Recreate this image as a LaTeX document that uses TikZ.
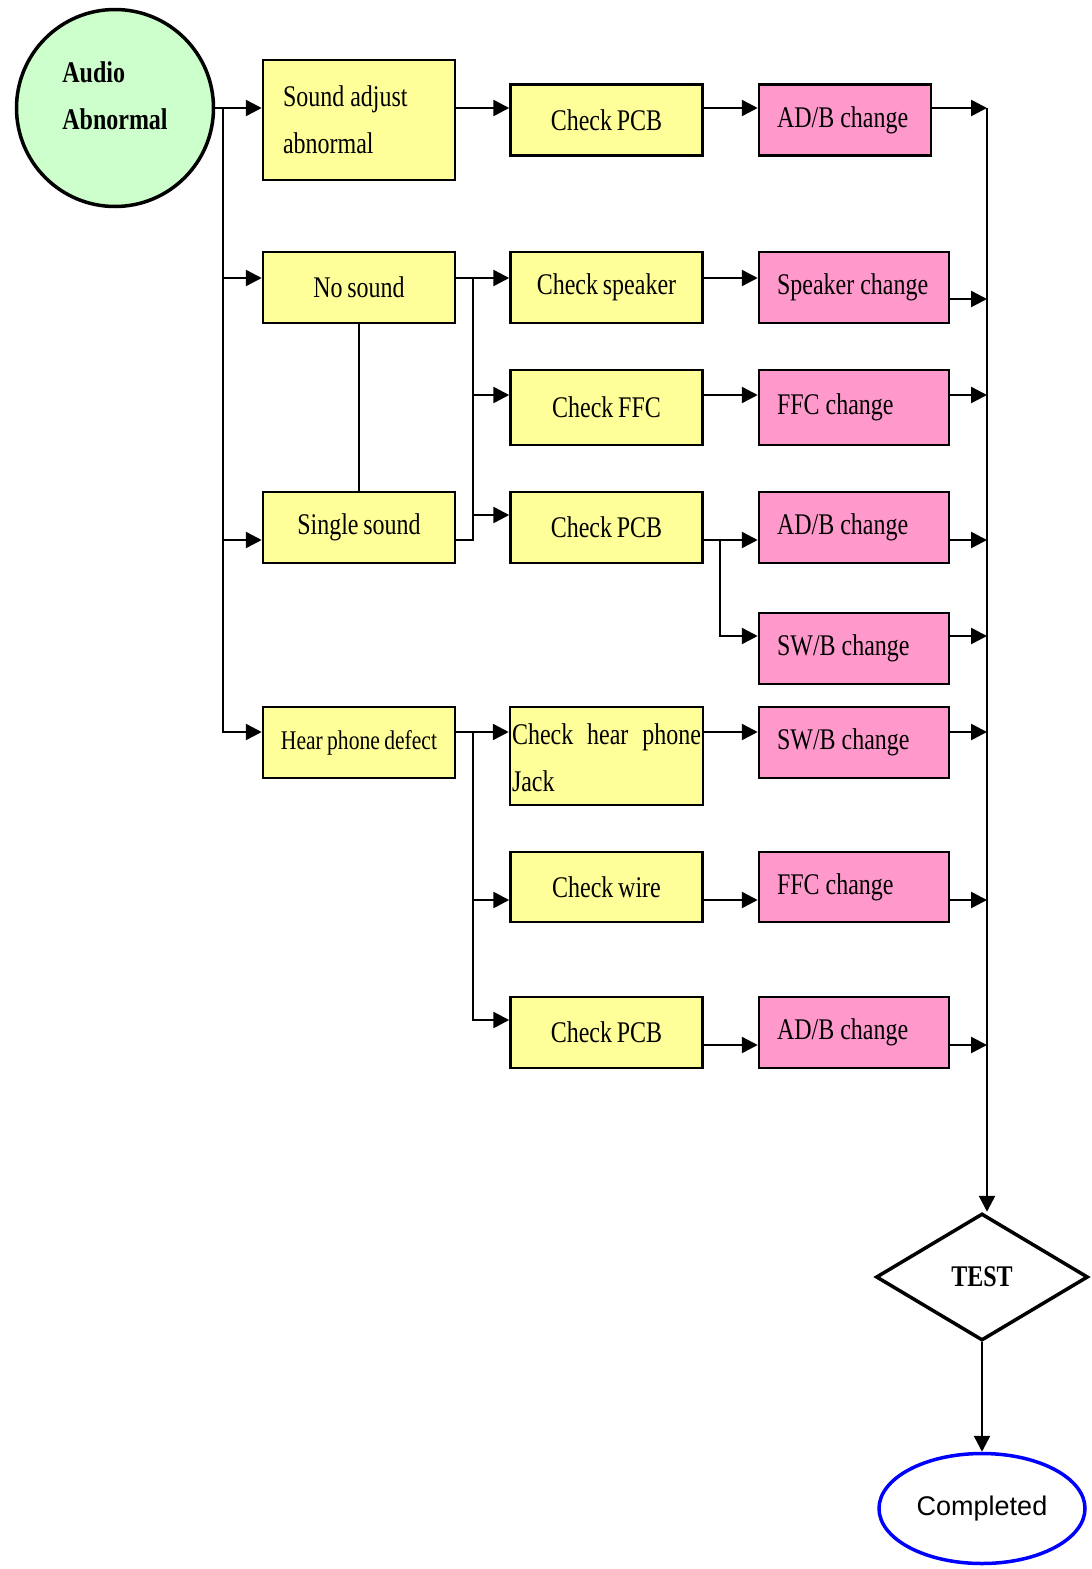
\documentclass[tikz,border=0pt]{standalone}
\usepackage{fontspec}
\setmainfont[FakeStretch=0.8, WordSpace=0.8]{Liberation Serif}
\newfontfamily\donefont{Liberation Sans}
\usepackage{tikz}
\usetikzlibrary{positioning,arrows.meta,calc,shapes.geometric}
\definecolor{boxyellow}{HTML}{FFFF99}
\definecolor{boxpink}{HTML}{FF99CC}
\definecolor{startgreen}{HTML}{CCFFCC}

\begin{document}
\begin{tikzpicture}[x=1pt, y=-1pt, line width=2.5pt, >={Triangle[length=16pt,width=16pt]},
    start_node/.style={draw, circle, fill=startgreen, line width=3.5pt, minimum size=197pt, inner sep=0pt, align=left, text depth=25pt, font=\bfseries\fontsize{30}{47}\selectfont},
    step_box/.style={draw, rectangle, fill=boxyellow, line width=2.5pt, minimum width=192pt, minimum height=71pt, inner sep=0pt, align=center, font=\fontsize{30}{47}\selectfont},
    change_box/.style={draw, rectangle, fill=boxpink, line width=2.5pt, minimum width=190pt, minimum height=71pt, inner xsep=9pt, inner ysep=0pt, text width=172pt, align=left, execute at begin node={\spaceskip=0.2em\relax\hspace*{9pt}}, font=\fontsize{30}{47}\selectfont},
    test_node/.style={draw, diamond, line width=3.5pt, minimum width=212pt, minimum height=127pt, inner sep=0pt, font=\bfseries\fontsize{30}{36}\selectfont},
    done_node/.style={draw=blue, ellipse, line width=3.5pt, minimum width=206pt, minimum height=110pt, inner sep=0pt, font=\donefont\fontsize{27}{32}\selectfont}]
    \useasboundingbox (0,0) rectangle (1092,1569);

    % problems
    \node[start_node] (audio) at (115,108) {Audio\\Abnormal};
    \node[step_box, minimum height=120pt, align=left, text width=152pt, inner xsep=20pt, execute at begin node={\spaceskip=0.2em\relax}] (adjust) at (359,120) {Sound adjust\\abnormal};
    \node[step_box] (nosound) at (359,287.5) {No sound};
    \node[step_box] (single) at (359,527.5) {Single sound};
    \node[step_box, font=\fontsize{27}{40}\selectfont] (hear) at (359,742.5) {Hear phone defect};

    % checks
    \node[step_box] (c1) at (606.5,120) {Check PCB};
    \node[step_box] (c2) at (606.5,287.5) {Check speaker};
    \node[step_box, minimum height=75pt] (c3) at (606.5,407.5) {Check FFC};
    \node[step_box] (c4) at (606.5,527.5) {Check PCB};
    \node[step_box, minimum height=98pt, text width=189pt, inner xsep=2pt, align=justify, text depth=44pt] (c5) at (606.5,756) {Check hear phone Jack};
    \node[step_box, minimum height=70pt] (c6) at (606.5,887) {Check wire};
    \node[step_box] (c7) at (606.5,1032.5) {Check PCB};

    % repairs
    \node[change_box, minimum width=172pt, text width=154pt] (r1) at (845,120) {AD/B change};
    \node[change_box] (r2) at (854,287.5) {Speaker change};
    \node[change_box, minimum height=75pt] (r3) at (854,407.5) {FFC change};
    \node[change_box] (r4) at (854,527.5) {AD/B change};
    \node[change_box] (r5) at (854,648.5) {SW/B change};
    \node[change_box] (r6) at (854,742.5) {SW/B change};
    \node[change_box, minimum height=70pt] (r7) at (854,887) {FFC change};
    \node[change_box] (r8) at (854,1032.5) {AD/B change};

    \node[test_node] (test) at (982,1277) {TEST};
    \node[done_node] (done) at (982,1508.5) {Completed};

    % bus points
    \coordinate (lbus) at (223,108);
    \coordinate (mbus) at (473,278);
    \coordinate (sbus) at (720,540);
    \coordinate (hbus) at (473,732);
    \coordinate (rbus) at (987,108);

    % left side
    \draw[->] (audio.east) -- (adjust.west |- audio.east);
    \draw[->] (lbus) |- ([yshift=9.5]nosound.west);
    \draw[->] (lbus) |- ([yshift=-12.5]single.west);
    \draw[->] (lbus) |- ([yshift=10.5]hear.west);
    \draw[line width=1.5pt] (nosound.south) -- (single.north);

    % to the checks
    \draw[->] ([yshift=12]adjust.east) -- ([yshift=12]c1.west);
    \draw[->] ([yshift=9.5]nosound.east) -- ([yshift=9.5]c2.west);
    \draw ([yshift=-12.5]single.east) -| (mbus);
    \draw[->] (mbus) |- ([yshift=12.5]c3.west);
    \draw[->] (mbus) |- ([yshift=12.5]c4.west);
    \draw[->] ([yshift=10.5]hear.east) -- ([yshift=10.5]hear.east -| c5.west);
    \draw[->] (hbus) |- ([yshift=-13]c6.west);
    \draw[->] (hbus) |- ([yshift=12.5]c7.west);

    % to the repairs
    \draw[->] ([yshift=12]c1.east) -- ([yshift=12]r1.west);
    \draw[->] ([yshift=9.5]c2.east) -- ([yshift=9.5]r2.west);
    \draw[->] ([yshift=12.5]c3.east) -- ([yshift=12.5]r3.west);
    \draw[->] ([yshift=-12.5]c4.east) -- ([yshift=-12.5]r4.west);
    \draw[->] (sbus) |- ([yshift=12.5]r5.west);
    \draw[->] ([yshift=24]c5.east) -- ([yshift=24]c5.east -| r6.west);
    \draw[->] ([yshift=-13]c6.east) -- ([yshift=-13]r7.west);
    \draw[->] ([yshift=-12.5]c7.east) -- ([yshift=-12.5]r8.west);

    % right bus
    \draw[->] ([yshift=12]r1.east) -- ([yshift=12]r1.east -| rbus);
    \draw[->] ([yshift=-11.5]r2.east) -- ([yshift=-11.5]r2.east -| rbus);
    \draw[->] ([yshift=12.5]r3.east) -- ([yshift=12.5]r3.east -| rbus);
    \draw[->] ([yshift=-12.5]r4.east) -- ([yshift=-12.5]r4.east -| rbus);
    \draw[->] ([yshift=12.5]r5.east) -- ([yshift=12.5]r5.east -| rbus);
    \draw[->] ([yshift=10.5]r6.east) -- ([yshift=10.5]r6.east -| rbus);
    \draw[->] ([yshift=-13]r7.east) -- ([yshift=-13]r7.east -| rbus);
    \draw[->] ([yshift=-12.5]r8.east) -- ([yshift=-12.5]r8.east -| rbus);
    \draw[->] (rbus) -- (rbus |- test.north);
    \draw[->] (test.south) -- (test.south |- done.north);
\end{tikzpicture}
\end{document}
